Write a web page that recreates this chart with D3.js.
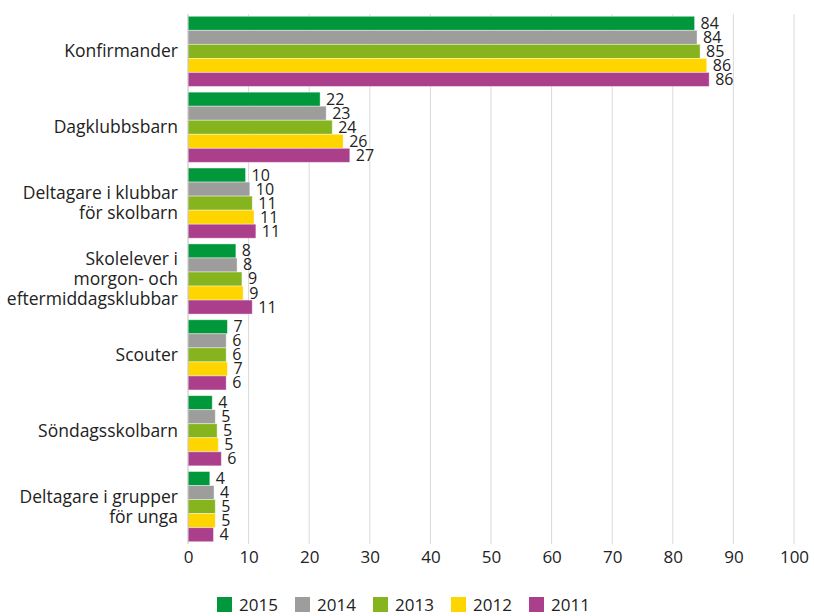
<!DOCTYPE html>
<html>
<head>
<meta charset="utf-8">
<script src="https://cdn.jsdelivr.net/npm/d3@7"></script>
<style>
body { margin: 0; background: #fff; }
text { font-family: "Open Sans", "Noto Sans", sans-serif; fill: #222; }
</style>
</head>
<body>
<div id="chart"></div>
<script>
var width = 814;
var height = 616;

var categories = [
    ["Konfirmander"],
    ["Dagklubbsbarn"],
    ["Deltagare i klubbar", "för skolbarn"],
    ["Skolelever i", "morgon- och", "eftermiddagsklubbar"],
    ["Scouter"],
    ["Söndagsskolbarn"],
    ["Deltagare i grupper", "för unga"]
];
var years = ["2015", "2014", "2013", "2012", "2011"];
var colors = ["#00983a", "#9d9d9c", "#86b41e", "#ffd500", "#ab3f8c"];

// values per year, in category order
var v2015 = [83.6, 21.8, 9.5, 7.9, 6.5, 4.0, 3.6];
var v2014 = [84.0, 22.8, 10.2, 8.1, 6.3, 4.5, 4.3];
var v2013 = [84.5, 23.8, 10.6, 8.9, 6.3, 4.8, 4.5];
var v2012 = [85.6, 25.6, 10.9, 9.1, 6.5, 5.0, 4.5];
var v2011 = [86.0, 26.7, 11.2, 10.6, 6.3, 5.5, 4.2];
var series = [v2015, v2014, v2013, v2012, v2011];
var ticks = [0, 10, 20, 30, 40, 50, 60, 70, 80, 90, 100];

var svg = d3.select("#chart")
    .append("svg")
    .attr("width", width)
    .attr("height", height);

var x = d3.scaleLinear()
    .domain([0, 100])
    .range([188, 794]);

var y = d3.scaleBand()
    .domain(d3.range(categories.length))
    .range([14, 544])
    .paddingInner(0.075)
    .paddingOuter(0.03);

var y1 = d3.scaleBand()
    .domain(d3.range(years.length))
    .range([0, y.bandwidth()]);

// gridlines
svg.append("g")
    .selectAll("line")
    .data(ticks.slice(1))
    .enter()
    .append("line")
    .attr("x1", function(d) { return x(d); })
    .attr("x2", function(d) { return x(d); })
    .attr("y1", 14)
    .attr("y2", 544)
    .attr("stroke", "#d9d9d9")
    .attr("stroke-width", 1);

// bottom axis labels
var xAxis = svg.append("g")
    .attr("transform", "translate(0,544)")
    .call(d3.axisBottom(x).tickValues(ticks).tickSize(0).tickPadding(7));
xAxis.select(".domain").remove();
xAxis.selectAll("text")
    .style("font-size", "17px")
    .attr("fill", "#222");

// bars
var groups = svg.append("g")
    .selectAll("g")
    .data(categories)
    .enter()
    .append("g")
    .attr("transform", function(d, i) { return "translate(0," + y(i) + ")"; });

groups.each(function(c, ci) {
    var g = d3.select(this);
    var rows = years.map(function(yr, si) {
        return { s: si, v: series[si][ci] };
    });
    g.selectAll("rect")
        .data(rows)
        .enter()
        .append("rect")
        .attr("x", x(0))
        .attr("y", function(d) { return y1(d.s); })
        .attr("width", function(d) { return x(d.v) - x(0); })
        .attr("height", y1.bandwidth())
        .attr("fill", function(d) { return colors[d.s]; })
        .attr("stroke", "#fff")
        .attr("stroke-opacity", 0.5)
        .attr("stroke-width", 0.8);
    g.selectAll("text.val")
        .data(rows)
        .enter()
        .append("text")
        .attr("class", "val")
        .attr("x", function(d) { return x(d.v) + 6; })
        .attr("y", function(d) { return y1(d.s) + y1.bandwidth() / 2 + 5.5; })
        .style("font-size", "16px")
        .text(function(d) { return Math.round(d.v); });

    var lh = 20;
    var lab = g.append("text")
        .attr("text-anchor", "end")
        .style("font-size", "17.5px");
    c.forEach(function(line, li) {
        lab.append("tspan")
            .attr("x", 178)
            .attr("y", y.bandwidth() / 2 + 6 + (li - (c.length - 1) / 2) * lh)
            .text(line);
    });
});

// left axis line
svg.append("line")
    .attr("x1", x(0))
    .attr("x2", x(0))
    .attr("y1", 14)
    .attr("y2", 544)
    .attr("stroke", "#bfbfbf");

// legend
var legend = svg.append("g")
    .selectAll("g")
    .data(years)
    .enter()
    .append("g")
    .attr("transform", function(d, i) { return "translate(" + (217 + i * 78) + ",597)"; });
legend.append("rect")
    .attr("width", 15)
    .attr("height", 15)
    .attr("fill", function(d, i) { return colors[i]; });
legend.append("text")
    .attr("x", 22)
    .attr("y", 13.5)
    .style("font-size", "17px")
    .text(function(d) { return d; });
</script>
</body>
</html>
